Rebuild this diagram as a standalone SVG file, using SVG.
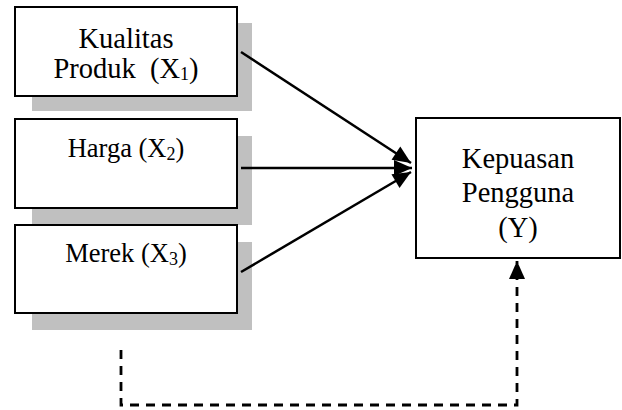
<svg xmlns="http://www.w3.org/2000/svg" width="622" height="410" viewBox="0 0 622 410">
<style>
.shadow{fill:#c0c0c0;stroke:none}
.box{fill:#fff;stroke:#000;stroke-width:2}
.t{font-family:"Liberation Serif","Times New Roman",serif;fill:#000;text-anchor:middle;white-space:pre}
.sub{font-size:18px}
.conn{stroke:#000;stroke-width:2.5;fill:none}
.dash{stroke:#000;stroke-width:2.8;fill:none;stroke-dasharray:9 7}
</style>
<defs>
<marker id="ah" markerUnits="userSpaceOnUse" markerWidth="19" markerHeight="17" refX="18" refY="8" orient="auto" overflow="visible">
<path d="M0,0 L18,8 L0,16 z" fill="#000"/>
</marker>
</defs>
<g id="x1">
<rect class="shadow" x="32" y="23" width="220" height="88"/>
<rect class="box" x="15" y="7" width="222" height="89"/>
<text class="t" x="126" y="48" font-size="28.5">Kualitas</text>
<text class="t" x="126" y="78" font-size="28.5">Produk  (X<tspan class="sub" dy="2">1</tspan><tspan dy="-2">)</tspan></text>
</g>
<g id="x2">
<rect class="shadow" x="32" y="136" width="220" height="89"/>
<rect class="box" x="15" y="119" width="222" height="89"/>
<text class="t" x="126" y="157" font-size="26.5">Harga (X<tspan class="sub" dy="3">2</tspan><tspan dy="-3">)</tspan></text>
</g>
<g id="x3">
<rect class="shadow" x="32" y="242" width="220" height="88"/>
<rect class="box" x="15" y="225" width="222" height="88"/>
<text class="t" x="126" y="262" font-size="26.5">Merek (X<tspan class="sub" dy="3">3</tspan><tspan dy="-3">)</tspan></text>
</g>
<g id="y">
<rect class="box" x="416" y="118" width="204" height="140"/>
<text class="t" x="518" y="168" font-size="28.5">Kepuasan</text>
<text class="t" x="518" y="202" font-size="28.5">Pengguna</text>
<text class="t" x="518" y="237" font-size="28.5">(Y)</text>
</g>
<g id="connectors">
<line class="conn" x1="241" y1="52" x2="411" y2="163" marker-end="url(#ah)"/>
<line class="conn" x1="241" y1="168" x2="412" y2="168" marker-end="url(#ah)"/>
<line class="conn" x1="241" y1="272" x2="411" y2="172" marker-end="url(#ah)"/>
<path class="dash" d="M121,350 V405 H517 V261" marker-end="url(#ah)"/>
</g>
</svg>
